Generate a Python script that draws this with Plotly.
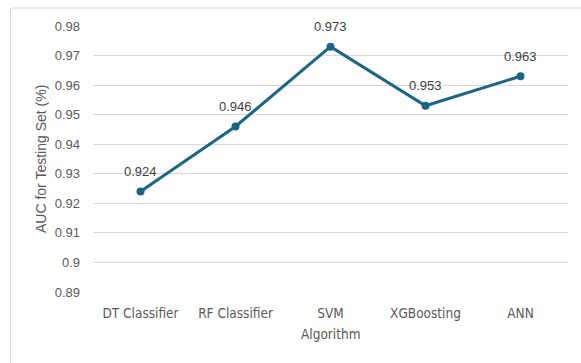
import plotly.graph_objects as go

# AUC on the testing set for each algorithm
algorithms = ["DT Classifier", "RF Classifier", "SVM", "XGBoosting", "ANN"]
auc_values = [0.924, 0.946, 0.973, 0.953, 0.963]
y_ticks = [0.89, 0.90, 0.91, 0.92, 0.93, 0.94, 0.95, 0.96, 0.97, 0.98]
y_tick_labels = ["0.89", "0.9", "0.91", "0.92", "0.93", "0.94", "0.95", "0.96", "0.97", "0.98"]

LINE = "#1B6585"
GRID = "#D9D9D9"
TICK = "#595959"
NARROW = "DejaVu Sans Condensed, sans-serif"
SANS = "Liberation Sans, Arial, sans-serif"

W, H = 581, 363
ML, MR, MT, MB = 93, 13, 25.5, 71
pw = W - ML - MR
ph = H - MT - MB

fig = go.Figure()
fig.add_trace(go.Scatter(
    x=algorithms,
    y=auc_values,
    mode="lines+markers",
    line=dict(color=LINE, width=3),
    marker=dict(color=LINE, size=8),
    hoverinfo="skip",
    showlegend=False,
))

# value labels above each point
for name, v in zip(algorithms, auc_values):
    fig.add_annotation(
        x=name, y=v, xref="x", yref="y",
        text=f"{v:.3f}", showarrow=False,
        yanchor="middle", yshift=20,
        font=dict(family=SANS, size=13, color="#404040"),
    )

fig.add_annotation(
    x=(41 - ML) / pw, y=0.5, xref="paper", yref="paper",
    text="AUC for Testing Set (%)", showarrow=False, textangle=-90,
    xanchor="center", yanchor="middle",
    font=dict(family=SANS, size=14, color=TICK),
)
fig.add_annotation(
    x=0.5, y=-(334 - (MT + ph)) / ph, xref="paper", yref="paper",
    text="Algorithm", showarrow=False,
    xanchor="center", yanchor="middle",
    font=dict(family=NARROW, size=13.5, color=TICK),
)

# chart frame (top and left edges visible)
fig.add_shape(
    type="rect", xref="paper", yref="paper",
    x0=(10.5 - ML) / pw, x1=1.2,
    y0=-0.5, y1=(MT + ph - 7.5) / ph,
    line=dict(color=GRID, width=1), fillcolor="rgba(0,0,0,0)",
    layer="below",
)

fig.update_layout(
    width=W, height=H,
    margin=dict(l=ML, r=MR, t=MT, b=MB),
    paper_bgcolor="white", plot_bgcolor="white",
    xaxis=dict(
        type="category", range=[-0.5, 4.5],
        showgrid=False, zeroline=False, showline=False, ticks="",
        tickfont=dict(family=NARROW, size=13.5, color=TICK),
        ticklabelstandoff=11,
    ),
    yaxis=dict(
        range=[0.89, 0.98], tickvals=y_ticks, ticktext=y_tick_labels,
        showgrid=True, gridcolor=GRID, gridwidth=1,
        zeroline=False, showline=False, ticks="",
        tickfont=dict(family=SANS, size=13, color=TICK),
        ticklabelstandoff=12,
    ),
)

fig.write_html("out.html")
